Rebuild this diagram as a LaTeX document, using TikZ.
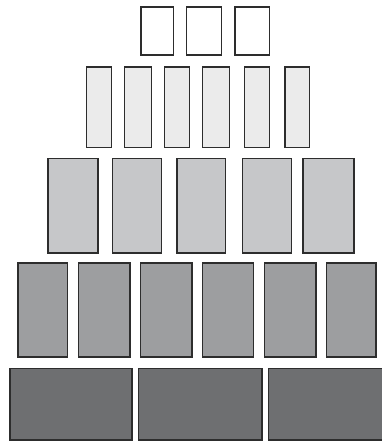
\documentclass[tikz,border=0pt]{standalone}
\usepackage{tikz}
\usepackage{xcolor}
\definecolor{edgegray}{RGB}{45,45,45}
\definecolor{tierone}{RGB}{255,255,255}
\definecolor{tiertwo}{RGB}{235,235,235}
\definecolor{tierthree}{RGB}{198,199,201}
\definecolor{tierfour}{RGB}{157,158,160}
\definecolor{tierfive}{RGB}{110,111,113}

\begin{document}
\begin{tikzpicture}[
      x=1pt, y=-1pt,
      block/.style={rectangle, draw=edgegray, line width=1.6pt, inner sep=0pt,
                  anchor=north west, minimum width=#1},
      rowone/.style={block=#1, fill=tierone, minimum height=48pt},
      rowtwo/.style={block=#1, fill=tiertwo, minimum height=80.4pt},
      rowthree/.style={block=#1, fill=tierthree, minimum height=94.6pt},
      rowfour/.style={block=#1, fill=tierfour, minimum height=94.3pt},
      rowfive/.style={block=#1, fill=tierfive, minimum height=71.3pt}
    ]
    \useasboundingbox (0,0) rectangle (382,441);
    \begin{scope}
    \clip (0,0) rectangle (382,441);

    % top row
    \foreach \x/\w [count=\i] in {140/32.7, 185.7/35, 234.3/34.4}
      \node[rowone=\w pt] (one\i) at (\x,6.3) {};

    \foreach \x/\w [count=\i] in {85.7/25, 123.7/27, 163.7/25, 201.7/27, 243.7/25, 284/24.7}
      \node[rowtwo=\w pt] (two\i) at (\x,66.3) {};

    \foreach \x/\w [count=\i] in {47.3/49.7, 111.7/49, 176/48.7, 241.7/49, 302/51}
      \node[rowthree=\w pt] (three\i) at (\x,157.7) {};

    \foreach \x/\w [count=\i] in {17.3/49.4, 77.7/51.3, 139.7/51.3, 201.7/51, 263.7/51.3, 325.7/49.6}
      \node[rowfour=\w pt] (four\i) at (\x,262) {};

    % bottom row, last block runs off the edge
    \foreach \x/\w [count=\i] in {9.3/121.7, 137.7/123.3, 267.7/125}
      \node[rowfive=\w pt] (five\i) at (\x,367.7) {};
    \end{scope}
  \end{tikzpicture}
\end{document}
